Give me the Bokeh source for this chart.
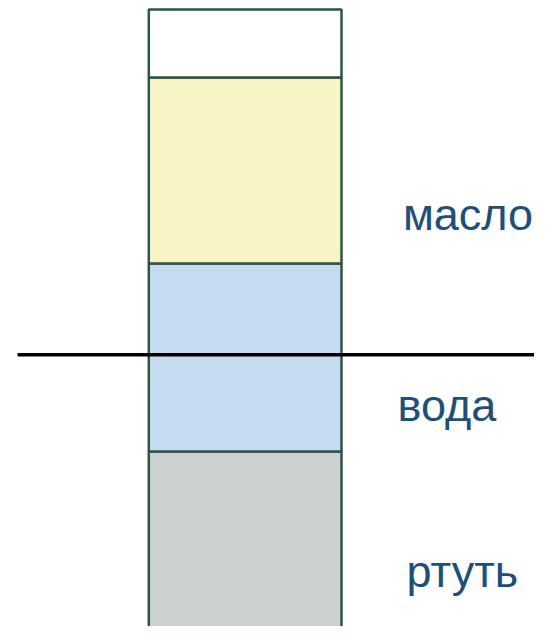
from bokeh.plotting import figure
from bokeh.models import Range1d, ColumnDataSource
from bokeh.embed import file_html
from bokeh.resources import INLINE
from bokeh.core.properties import value

# Layers in the vessel (bottom to top), heights in layer units
layer_names = ["ртуть", "вода", "масло", "воздух"]
layer_bottoms = [0.0, 1.01, 2.01, 3.0]
layer_tops = [1.01, 2.01, 3.0, 3.362]
layer_colors = ["#CCD1CF", "#C5DBEF", "#F8F4C6", "#FFFFFF"]
vessel_left = [0.0, 0.0, 0.0, 0.0]
vessel_right = [1.025, 1.025, 1.025, 1.025]

# Horizontal reference line
level_x = [-0.698, 2.13]
level_y = [1.525, 1.525]

# Labels
label_texts = ["масло", "вода", "ртуть"]
label_x = [1.698, 1.586, 1.668]
label_y = [2.272, 1.256, 0.373]

W, H = 534, 626
scale = 188.0
x0 = -148.3 / scale
y_top = 641.0 / scale
y0 = y_top - H / scale

p = figure(width=W, height=H, output_backend="svg", toolbar_location=None,
           x_range=Range1d(x0, x0 + W / scale), y_range=Range1d(y0, y_top),
           min_border=0)
p.xaxis.visible = False
p.yaxis.visible = False
p.grid.visible = False
p.outline_line_color = None
p.background_fill_color = "white"
p.border_fill_color = "white"

src = ColumnDataSource(dict(left=vessel_left, right=vessel_right, bottom=layer_bottoms,
                            top=layer_tops, color=layer_colors, name=layer_names))
p.quad(left="left", right="right", bottom="bottom", top="top", source=src,
       fill_color="color", line_color="#2D5446", line_width=2.5)

p.line(level_x, level_y, line_color="black", line_width=3.5)

p.text(x=label_x, y=label_y, text=label_texts, text_align="center",
       text_baseline="alphabetic", text_font=value("Liberation Sans"),
       text_font_size="45px", text_color="#1F4E79")

open("out.html", "w").write(file_html(p, INLINE))
